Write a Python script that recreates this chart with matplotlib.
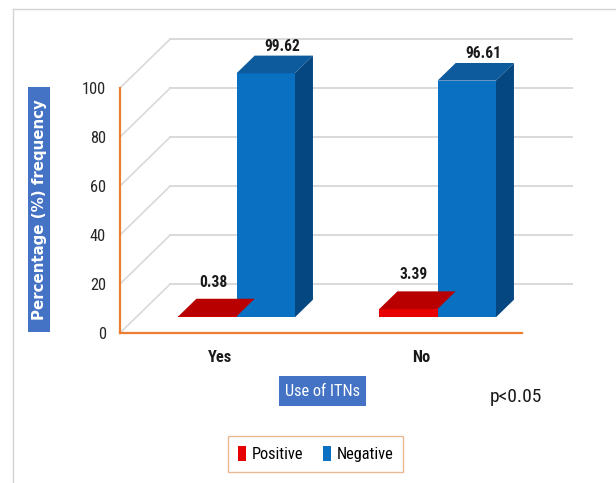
import matplotlib
matplotlib.use("Agg")
import matplotlib.pyplot as plt
from matplotlib import font_manager as fm
from matplotlib.patches import Polygon, Rectangle
import numpy as np

# ---- data -------------------------------------------------------------
categories = ["Yes", "No"]
series_names = ["Positive", "Negative"]
positive = [0.38, 3.39]
negative = [99.62, 96.61]
y_ticks = [0, 20, 40, 60, 80, 100]

# ---- fonts ------------------------------------------------------------
installed = {f.name for f in fm.fontManager.ttflist}
SCALE = 1.0
FONT = "Liberation Sans"
for cand, k in (("Liberation Sans Narrow", 1.2), ("Roboto Condensed", 1.12),
                ("Open Sans Condensed", 1.15)):
    if cand in installed:
        FONT, SCALE = cand, k
        break
NARROW = [FONT, "DejaVu Sans"]


def fs(size):
    return size * SCALE


# ---- styling ----------------------------------------------------------
face_colors = {"Positive": ("#E60000", "#B80000", "#900000"),
               "Negative": ("#0A70C2", "#0D5A9C", "#054780")}
grid_color = "#D9D9D9"
axis_color = "#ED7D31"

# pseudo-3D depth: full depth of the plot box in data units
DX, DY = 0.25, 20.0
BAR_FRONT, BAR_BACK = 0.32, 0.68
bar_w = 0.29

W, H = 616, 483
fig = plt.figure(figsize=(W / 100, H / 100), dpi=100)
fig.patch.set_facecolor("white")

# front plane of the chart
ax = fig.add_axes([120 / W, 150 / H, 402 / W, 245 / H])
ax.set_xlim(0, 2)
ax.set_ylim(0, 100)
ax.set_facecolor("none")
for s in ("top", "right"):
    ax.spines[s].set_visible(False)
for s in ("left", "bottom"):
    ax.spines[s].set_color(axis_color)
    ax.spines[s].set_linewidth(1.6)
    ax.spines[s].set_zorder(5)

# back wall gridlines and side wall depth lines
for v in y_ticks:
    ax.plot([DX, 2 + DX], [v + DY, v + DY], color=grid_color, lw=1.4,
            clip_on=False, zorder=1)
    ax.plot([0, DX], [v, v + DY], color=grid_color, lw=1.2,
            clip_on=False, zorder=1)

x = np.arange(len(categories))
values = {"Positive": positive, "Negative": negative}
offsets = {"Positive": -bar_w, "Negative": 0.0}
label_shift = {"Positive": (-6, 9), "Negative": (5, 2)}

fx0, fy0 = BAR_FRONT * DX, BAR_FRONT * DY
bx0, by0 = BAR_BACK * DX, BAR_BACK * DY

for name in series_names:
    front, top, side = face_colors[name]
    left = x + 0.5 + offsets[name]
    vals = np.array(values[name])
    ax.bar(left + fx0, vals, width=bar_w, bottom=fy0, align="edge",
           color=front, linewidth=0, label=name, zorder=3, clip_on=False)
    for xl, v in zip(left, vals):
        top_face = [(xl + fx0, v + fy0), (xl + bar_w + fx0, v + fy0),
                    (xl + bar_w + bx0, v + by0), (xl + bx0, v + by0)]
        side_face = [(xl + bar_w + fx0, fy0), (xl + bar_w + fx0, v + fy0),
                     (xl + bar_w + bx0, v + by0), (xl + bar_w + bx0, by0)]
        ax.add_patch(Polygon(side_face, closed=True, facecolor=side,
                             edgecolor="none", zorder=2.9, clip_on=False))
        ax.add_patch(Polygon(top_face, closed=True, facecolor=top,
                             edgecolor="none", zorder=3.1, clip_on=False))
        cx = xl + bar_w / 2 + 0.55 * DX
        ax.annotate(f"{v:.2f}", xy=(cx, v + by0),
                    xytext=label_shift[name], textcoords="offset pixels",
                    ha="center", va="bottom", fontsize=fs(10),
                    fontweight="bold", family=NARROW, color="#1a1a1a",
                    zorder=6, annotation_clip=False)

# axes ticks
ax.set_yticks(y_ticks)
ax.set_yticklabels([str(t) for t in y_ticks], family=NARROW,
                   fontsize=fs(10.5), color="#262626")
ax.set_xticks(x + 0.5)
ax.set_xticklabels(categories, family=NARROW, fontsize=fs(10.5),
                   fontweight="bold", color="#1a1a1a")
ax.tick_params(axis="y", length=0, pad=10)
ax.tick_params(axis="x", length=0, pad=12)

# axis titles in filled boxes
fig.add_artist(Rectangle((28 / W, (H - 332) / H), 22 / W, 245 / H,
                         transform=fig.transFigure, facecolor="#4472C4",
                         edgecolor="none"))
fig.text(39.5 / W, (H - 210) / H, "Percentage (%) frequency", rotation=90,
         ha="center", va="center", color="white", fontsize=10.8,
         fontweight="bold", family="DejaVu Sans")

fig.add_artist(Rectangle((279 / W, (H - 406) / H), 87 / W, 30 / H,
                         transform=fig.transFigure, facecolor="#4472C4",
                         edgecolor="none"))
fig.text(322.5 / W, (H - 391.5) / H, "Use of ITNs", ha="center",
         va="center", color="white", fontsize=fs(10.5), family=NARROW)

fig.text(516 / W, (H - 397) / H, "p<0.05", ha="center", va="center",
         color="#1a1a1a", fontsize=fs(12.5), family=NARROW)

# legend
leg = fig.legend(loc="center", bbox_to_anchor=(315.5 / W, (H - 454) / H),
                 ncol=2, frameon=True, fancybox=False,
                 prop={"family": NARROW, "size": fs(10.5)},
                 handlelength=0.5, handleheight=1.1, handletextpad=0.35,
                 columnspacing=1.2, borderpad=0.6, borderaxespad=0)
leg.get_frame().set_edgecolor("#E7A77A")
leg.get_frame().set_linewidth(1.0)

# outer chart frame
fig.add_artist(plt.Line2D([13 / W, 13 / W], [0, (H - 9) / H],
                          transform=fig.transFigure, color="#D4D4D4", lw=1))
fig.add_artist(plt.Line2D([13 / W, 1], [(H - 9) / H, (H - 9) / H],
                          transform=fig.transFigure, color="#D4D4D4", lw=1))

fig.savefig("out.png", dpi=100)
